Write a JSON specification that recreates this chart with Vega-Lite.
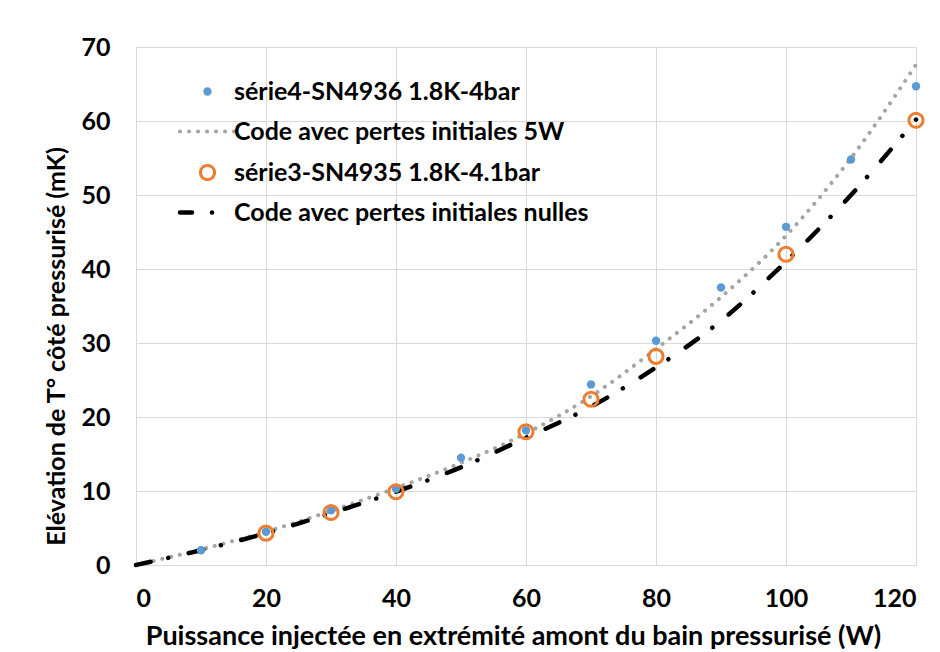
{
  "$schema": "https://vega.github.io/schema/vega-lite/v6.json",
  "width": 780,
  "height": 518,
  "autosize": {"type": "none"},
  "padding": {"left": 136, "top": 47, "right": 24, "bottom": 87},
  "background": "white",
  "config": {
    "view": {"stroke": null},
    "font": "Lato",
    "axis": {
      "grid": true,
      "gridColor": "#d9d9d9",
      "gridWidth": 1,
      "domain": false,
      "ticks": false,
      "tickSize": 0,
      "labelFont": "Lato",
      "labelFontSize": 25,
      "labelFontWeight": "bold",
      "labelColor": "#000000",
      "titleFont": "Lato",
      "titleFontSize": 25,
      "titleFontWeight": "bold",
      "titleColor": "#000000"
    }
  },
  "data": {
    "values": [
      {"serie": "série4-SN4936 1.8K-4bar", "x": 10, "y": 2.0},
      {"serie": "série4-SN4936 1.8K-4bar", "x": 20, "y": 4.5},
      {"serie": "série4-SN4936 1.8K-4bar", "x": 30, "y": 7.4},
      {"serie": "série4-SN4936 1.8K-4bar", "x": 40, "y": 10.3},
      {"serie": "série4-SN4936 1.8K-4bar", "x": 50, "y": 14.5},
      {"serie": "série4-SN4936 1.8K-4bar", "x": 60, "y": 18.2},
      {"serie": "série4-SN4936 1.8K-4bar", "x": 70, "y": 24.4},
      {"serie": "série4-SN4936 1.8K-4bar", "x": 80, "y": 30.3},
      {"serie": "série4-SN4936 1.8K-4bar", "x": 90, "y": 37.5},
      {"serie": "série4-SN4936 1.8K-4bar", "x": 100, "y": 45.7},
      {"serie": "série4-SN4936 1.8K-4bar", "x": 110, "y": 54.8},
      {"serie": "série4-SN4936 1.8K-4bar", "x": 120, "y": 64.7},
      {"serie": "Code avec pertes initiales 5W", "x": 0, "y": 0},
      {"serie": "Code avec pertes initiales 5W", "x": 10, "y": 2.1},
      {"serie": "Code avec pertes initiales 5W", "x": 20, "y": 4.5},
      {"serie": "Code avec pertes initiales 5W", "x": 30, "y": 7.3},
      {"serie": "Code avec pertes initiales 5W", "x": 40, "y": 10.4},
      {"serie": "Code avec pertes initiales 5W", "x": 50, "y": 13.8},
      {"serie": "Code avec pertes initiales 5W", "x": 60, "y": 17.8},
      {"serie": "Code avec pertes initiales 5W", "x": 70, "y": 22.8},
      {"serie": "Code avec pertes initiales 5W", "x": 80, "y": 29.2},
      {"serie": "Code avec pertes initiales 5W", "x": 90, "y": 36.2},
      {"serie": "Code avec pertes initiales 5W", "x": 100, "y": 44.5},
      {"serie": "Code avec pertes initiales 5W", "x": 110, "y": 55.0},
      {"serie": "Code avec pertes initiales 5W", "x": 120, "y": 67.6},
      {"serie": "série3-SN4935 1.8K-4.1bar", "x": 20, "y": 4.3},
      {"serie": "série3-SN4935 1.8K-4.1bar", "x": 30, "y": 7.1},
      {"serie": "série3-SN4935 1.8K-4.1bar", "x": 40, "y": 9.9},
      {"serie": "série3-SN4935 1.8K-4.1bar", "x": 60, "y": 18.0},
      {"serie": "série3-SN4935 1.8K-4.1bar", "x": 70, "y": 22.4},
      {"serie": "série3-SN4935 1.8K-4.1bar", "x": 80, "y": 28.2},
      {"serie": "série3-SN4935 1.8K-4.1bar", "x": 100, "y": 42.0},
      {"serie": "série3-SN4935 1.8K-4.1bar", "x": 120, "y": 60.1},
      {"serie": "Code avec pertes initiales nulles", "x": 0, "y": 0},
      {"serie": "Code avec pertes initiales nulles", "x": 10, "y": 2.0},
      {"serie": "Code avec pertes initiales nulles", "x": 20, "y": 4.3},
      {"serie": "Code avec pertes initiales nulles", "x": 30, "y": 7.0},
      {"serie": "Code avec pertes initiales nulles", "x": 40, "y": 9.9},
      {"serie": "Code avec pertes initiales nulles", "x": 50, "y": 13.2},
      {"serie": "Code avec pertes initiales nulles", "x": 60, "y": 17.2},
      {"serie": "Code avec pertes initiales nulles", "x": 70, "y": 21.4},
      {"serie": "Code avec pertes initiales nulles", "x": 80, "y": 26.7},
      {"serie": "Code avec pertes initiales nulles", "x": 90, "y": 33.0},
      {"serie": "Code avec pertes initiales nulles", "x": 100, "y": 41.0},
      {"serie": "Code avec pertes initiales nulles", "x": 110, "y": 50.0},
      {"serie": "Code avec pertes initiales nulles", "x": 120, "y": 60.2}
    ]
  },
  "encoding": {
    "x": {
      "field": "x", "type": "quantitative",
      "scale": {"domain": [0, 120], "nice": false, "zero": false},
      "axis": {
        "values": [0, 20, 40, 60, 80, 100, 120],
        "labelPadding": 21,
        "title": "Puissance injectée en extrémité amont du bain pressurisé (W)",
        "titleFontSize": 27,
        "titleX": 377, "titleY": 71, "titleBaseline": "middle", "titleAlign": "center"
      }
    },
    "y": {
      "field": "y", "type": "quantitative",
      "scale": {"domain": [0, 70], "nice": false},
      "axis": {
        "values": [0, 10, 20, 30, 40, 50, 60, 70],
        "labelPadding": 26,
        "labelBaseline": "middle",
        "title": "Elévation de T° côté pressurisé (mK)",
        "titleX": -80, "titleY": 299, "titleBaseline": "middle", "titleAlign": "center", "titleAngle": -90
      }
    },
    "color": {
      "field": "serie", "type": "nominal",
      "scale": {
        "domain": ["série4-SN4936 1.8K-4bar", "Code avec pertes initiales 5W", "série3-SN4935 1.8K-4.1bar", "Code avec pertes initiales nulles"],
        "range": ["#5b9bd5", "#a5a5a5", "#ed7d31", "#000000"]
      },
      "legend": {
        "title": null,
        "orient": "none",
        "legendX": 59,
        "legendY": 32,
        "padding": 0,
        "labelFont": "Lato",
        "labelFontSize": 25,
        "labelFontWeight": "bold",
        "labelColor": "#000000",
        "labelLimit": 0,
        "labelOffset": 14,
        "rowPadding": 14,
        "symbolSize": 3025,
        "symbolType": "stroke",
        "encode": {
          "symbols": {
            "update": {
              "shape": {"signal": "datum.index == 0 || datum.index == 2 ? 'circle' : 'stroke'"},
              "size": {"signal": "datum.index == 0 ? 70 : datum.index == 2 ? 200 : 3025"},
              "fill": {"signal": "datum.index == 0 ? '#5b9bd5' : '#ffffff'"},
              "fillOpacity": {"signal": "datum.index == 0 ? 1 : 0"},
              "stroke": {"signal": "datum.index == 0 ? '#5b9bd5' : datum.index == 1 ? '#a5a5a5' : datum.index == 2 ? '#ed7d31' : '#000000'"},
              "strokeOpacity": {"signal": "datum.index == 0 ? 0 : 1"},
              "strokeWidth": {"signal": "datum.index == 1 ? 4 : datum.index == 2 ? 3 : 4.5"},
              "strokeDash": {"signal": "datum.index == 1 ? [0.1, 8.9] : datum.index == 3 ? [12, 20, 0.1, 100] : [1, 0]"},
              "strokeCap": {"signal": "datum.index == 1 || datum.index == 3 ? 'round' : 'butt'"},
              "opacity": {"value": 1}
            }
          }
        }
      }
    }
  },
  "layer": [
    {
      "transform": [{"filter": "datum.serie == 'Code avec pertes initiales 5W'"}],
      "mark": {"type": "line", "interpolate": "monotone", "strokeWidth": 4, "strokeDash": [0.1, 8.9], "strokeCap": "round"}
    },
    {
      "transform": [{"filter": "datum.serie == 'Code avec pertes initiales nulles'"}],
      "mark": {"type": "line", "interpolate": "monotone", "strokeWidth": 4.5, "strokeDash": [15, 18, 0.1, 21], "strokeCap": "round"}
    },
    {
      "transform": [{"filter": "datum.serie == 'série4-SN4936 1.8K-4bar'"}],
      "mark": {"type": "point", "shape": "circle", "filled": true, "size": 70, "opacity": 1}
    },
    {
      "transform": [{"filter": "datum.serie == 'série3-SN4935 1.8K-4.1bar'"}],
      "mark": {"type": "point", "shape": "circle", "filled": false, "size": 200, "strokeWidth": 3, "opacity": 1}
    }
  ]
}
